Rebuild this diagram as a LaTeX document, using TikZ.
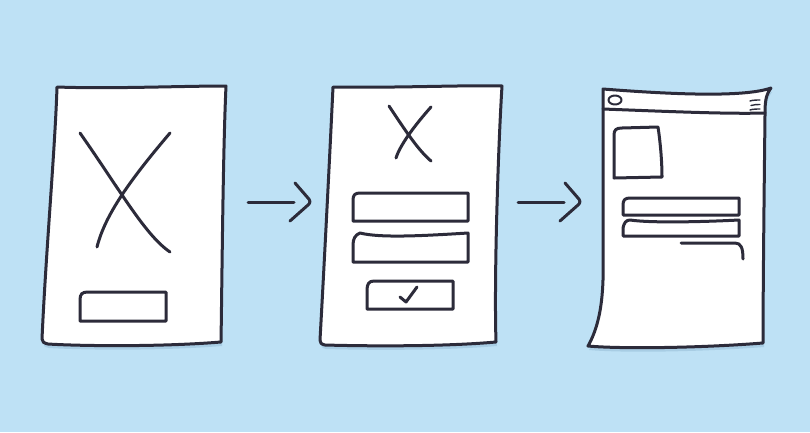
\documentclass[tikz,border=0pt]{standalone}
\definecolor{bgblue}{RGB}{190,225,245}
\definecolor{ink}{RGB}{44,43,58}
\definecolor{shade}{RGB}{150,190,215}
\tikzset{
  ln/.style={draw=ink, line width=3pt, line cap=round, line join=round},
  thin/.style={draw=ink, line width=2pt, line cap=round, line join=round},
  paper/.style={ln, fill=white},
  shadow/.style={fill=shade, opacity=0.55},
}
\def\ppA{(57,87) .. controls (110,89) and (180,86) .. (226,86)
  .. controls (223,150) and (222,280) .. (221,342)
  .. controls (160,347) and (80,346) .. (48,344)
  .. controls (44,343) and (42,342) .. (42,339)
  .. controls (46,250) and (55,150) .. (57,87) -- cycle}
\def\ppB{(333,87) .. controls (400,88) and (460,85) .. (502,86)
  .. controls (498,150) and (494,280) .. (496,342)
  .. controls (440,347) and (360,346) .. (325,345)
  .. controls (321,344) and (320,343) .. (320,340)
  .. controls (325,250) and (330,150) .. (333,87) -- cycle}
\def\ppC{(603,89) .. controls (680,95) and (745,97) .. (771,88)
  .. controls (766,95) and (765,100) .. (765,115)
  .. controls (764,200) and (763,300) .. (763,343)
  .. controls (700,348) and (620,349) .. (588,346)
  .. controls (597,330) and (602,310) .. (603,280) -- cycle}
\begin{document}
\begin{tikzpicture}[x=1pt,y=-1pt]
\fill[bgblue] (0,0) rectangle (810,432);
\useasboundingbox (0,0) rectangle (810,432);

% ---------- paper 1 ----------
\fill[shadow, shift={(1,4)}] \ppA;
\draw[paper] \ppA;
\coordinate (p1) at (224,202);
\draw[ln] (80,133) .. controls (120,190) and (145,235) .. (170,252);
\draw[ln] (170,133) .. controls (130,180) and (105,215) .. (97,247);
\draw[ln] (80,321) -- (80,300) .. controls (80,294) and (82,292) .. (88,292) -- (166,292) -- (166,321) -- cycle;

% ---------- paper 2 ----------
\fill[shadow, shift={(1,4)}] \ppB;
\draw[paper] \ppB;
\coordinate (p2l) at (326,202);
\coordinate (p2r) at (499,202);
\draw[ln] (389,106) .. controls (405,130) and (418,150) .. (431,161);
\draw[ln] (431,107) .. controls (415,125) and (400,145) .. (396,158);
\draw[ln] (353,221) -- (353,200) .. controls (353,195) and (355,193) .. (360,193) -- (468,193) -- (468,221) -- cycle;
\draw[ln] (353,262) -- (353,245) .. controls (353,239) and (355,235) .. (360,233)
  .. controls (380,238) and (420,236) .. (468,233) -- (468,262) -- cycle;
\draw[ln] (367,309) -- (367,290) .. controls (367,284) and (369,281) .. (374,281) -- (453,281) -- (453,309) -- cycle;
\draw[ln] (400,297) -- (406,302) -- (417,287);

% ---------- paper 3 ----------
\fill[shadow, shift={(1,4)}] \ppC;
\draw[paper] \ppC;
\coordinate (p3) at (600,202);
\draw[ln] (603,109) .. controls (680,112) and (730,114) .. (765,113);
\draw[thin] (615,100) ellipse [x radius=6.5, y radius=4.5];
\draw[ink, line width=1.4pt, line cap=round] (750,101) .. controls (753,100) and (757,100) .. (760,100);
\draw[ink, line width=1.4pt, line cap=round] (751,105.5) .. controls (754,104) and (757,105) .. (760,104.5);
\draw[ink, line width=1.4pt, line cap=round] (750,110) .. controls (753,109) and (757,109) .. (760,109);
\draw[ln] (614,178) -- (614,135) .. controls (614,130) and (616,128) .. (622,128) -- (658,127)
  .. controls (660,140) and (662,160) .. (662,177) -- cycle;
\draw[ln] (623,215) -- (623,205) .. controls (623,200) and (625,198) .. (630,198) -- (739,198) -- (739,215) -- cycle;
\draw[ln] (623,236) -- (623,228) .. controls (624,223) and (626,220) .. (630,220)
  .. controls (650,223) and (700,222) .. (739,220) -- (739,236) -- cycle;
\draw[ln] (681,243) -- (735,243) .. controls (741,243) and (743,248) .. (743,259);

% ---------- arrows ----------
\draw[ln] ([xshift=24pt]p1) -- ([xshift=-32pt]p2l);
\draw[ln] (295,183) -- (308,198) .. controls (310.5,200.5) and (310.5,203) .. (308,205) -- (290,221);
\draw[ln] ([xshift=19pt]p2r) -- ([xshift=-36pt]p3);
\draw[ln] (565,183) -- (578,198) .. controls (580.5,200.5) and (580.5,203) .. (578,205) -- (560,221);
\end{tikzpicture}
\end{document}
